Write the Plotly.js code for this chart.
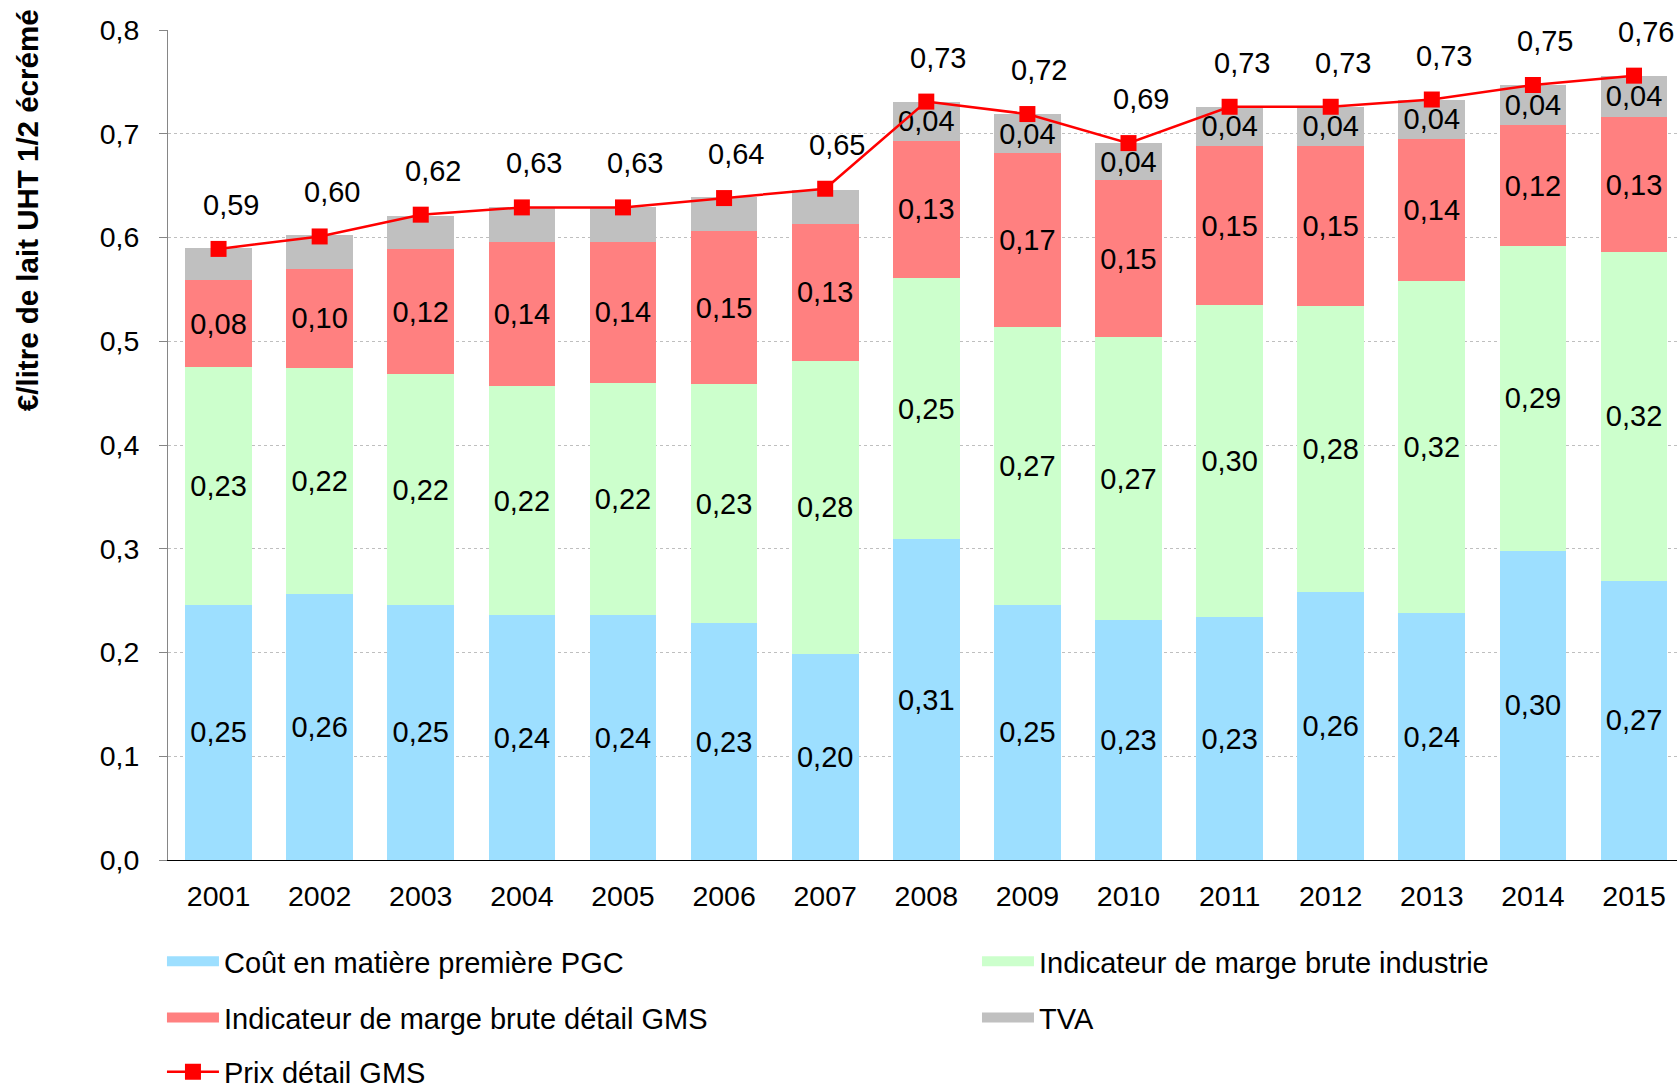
<!DOCTYPE html>
<html>
<head>
<meta charset="utf-8">
<script src="https://cdn.plot.ly/plotly-3.0.1.min.js"></script>
<style>
  html, body { margin: 0; padding: 0; background: #fff; }
  #chart { width: 1677px; height: 1083px; }
</style>
</head>
<body>
<div id="chart"></div>
<script>
var years = ['2001','2002','2003','2004','2005','2006','2007','2008','2009','2010','2011','2012','2013','2014','2015'];

// €/litre (labels show them rounded to 2 decimals)
var coutPGC    = [0.246,0.256,0.246,0.236,0.236,0.228,0.199,0.309,0.246,0.231,0.234,0.258,0.238,0.298,0.269];
var margeInd   = [0.229,0.218,0.222,0.221,0.224,0.231,0.282,0.252,0.268,0.273,0.301,0.276,0.320,0.294,0.317];
var margeGMS   = [0.084,0.096,0.121,0.139,0.136,0.147,0.132,0.132,0.167,0.151,0.153,0.154,0.137,0.116,0.130];
var tva        = [0.031,0.032,0.032,0.033,0.033,0.033,0.033,0.038,0.038,0.036,0.038,0.038,0.038,0.039,0.040];
var prixGMS    = [0.589,0.601,0.622,0.629,0.629,0.638,0.647,0.731,0.719,0.691,0.726,0.726,0.733,0.747,0.756];

var FONT = 'Liberation Sans, Arial, sans-serif';
var lblFont = {family: FONT, size: 29, color: '#000'};

var series = [
  {name: 'Coût en matière première PGC', vals: coutPGC, color: '#9DDFFF', legend: 'legend'},
  {name: 'Indicateur de marge brute industrie', vals: margeInd, color: '#CCFFCC', legend: 'legend2'},
  {name: 'Indicateur de marge brute détail GMS', vals: margeGMS, color: '#FF8080', legend: 'legend3'},
  {name: 'TVA', vals: tva, color: '#C0C0C0', legend: 'legend4'}
];

var tvaLabels = years.map(function (y) { return +y >= 2008 ? '%{y:.2f}' : ''; });

var traces = series.map(function (s) {
  return {
    type: 'bar', name: s.name, x: years, y: s.vals,
    marker: {color: s.color, line: {width: 0}},
    texttemplate: s.vals === tva ? tvaLabels : '%{y:.2f}',
    textposition: 'inside', insidetextanchor: 'middle',
    textangle: 0, constraintext: 'none',
    textfont: lblFont,
    showlegend: false, hoverinfo: 'skip'
  };
});

traces.push({
  type: 'scatter', mode: 'lines+markers', name: 'Prix détail GMS',
  x: years, y: prixGMS,
  line: {color: '#FF0000', width: 2.5},
  marker: {symbol: 'square', size: 16, color: '#FF0000'},
  legend: 'legend5', hoverinfo: 'skip'
});

// wide swatches for the legend (no data drawn)
series.forEach(function (s) {
  traces.push({
    type: 'scatter', mode: 'lines', name: s.name, x: [null], y: [null],
    line: {color: s.color, width: 15}, legend: s.legend, hoverinfo: 'skip'
  });
});

var prixNotes = years.map(function (y, i) {
  return {
    x: i, y: prixGMS[i], xref: 'x', yref: 'y',
    text: prixGMS[i].toFixed(2).replace('.', ','),
    showarrow: false, yshift: 44, xshift: 12,
    font: lblFont
  };
});

function leg(x, y) {
  return {
    orientation: 'h', x: x, y: y, xanchor: 'left', yanchor: 'middle',
    itemwidth: 52,
    font: {family: FONT, size: 29, color: '#000'},
    bgcolor: 'rgba(0,0,0,0)'
  };
}

var layout = {
  width: 1677, height: 1083,
  margin: {l: 168, r: 0, t: 30, b: 223, pad: 0, autoexpand: false},
  paper_bgcolor: '#fff', plot_bgcolor: '#fff',
  font: {family: FONT, size: 28.5, color: '#000'},
  separators: ', ',
  barmode: 'stack', bargap: 0.34,
  showlegend: true,
  legend:  leg(-0.004, -0.1223),
  legend2: leg(0.5361, -0.1223),
  legend3: leg(-0.004, -0.1898),
  legend4: leg(0.5361, -0.1898),
  legend5: leg(-0.004, -0.2554),
  xaxis: {
    type: 'category', range: [-0.5, 14.425],
    showline: true, linecolor: '#000', linewidth: 1,
    ticks: '', showgrid: false, zeroline: false,
    tickfont: {family: FONT, size: 28.5, color: '#000'},
    ticklabelstandoff: 11
  },
  yaxis: {
    range: [0, 0.8], dtick: 0.1, tickformat: '.1f',
    showline: true, linecolor: '#868686', linewidth: 1,
    ticks: 'outside', ticklen: 8, tickcolor: '#868686',
    showgrid: true, gridcolor: '#BFBFBF', griddash: 'dot', gridwidth: 1,
    zeroline: false,
    tickfont: {family: FONT, size: 28.5, color: '#000'},
    ticklabelstandoff: 14
  },
  annotations: prixNotes.concat([{
    xref: 'paper', yref: 'paper', x: -0.0934, y: 0.783,
    xanchor: 'center', yanchor: 'middle', textangle: -90,
    text: '€/litre de lait UHT 1/2 écrémé', showarrow: false,
    font: {family: FONT, size: 29.5, color: '#000', weight: 'bold'}
  }])
};

Plotly.newPlot('chart', traces, layout, {displayModeBar: false, staticPlot: true});
</script>
</body>
</html>
